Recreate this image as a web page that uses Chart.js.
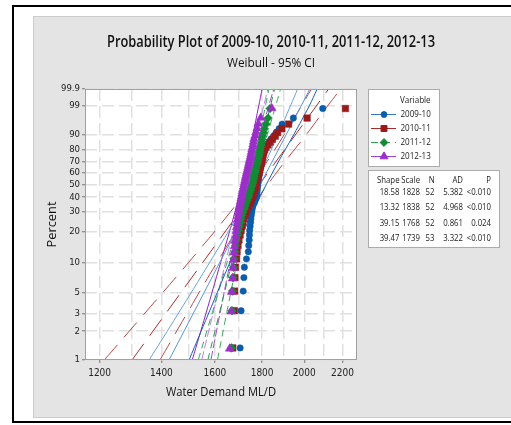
<!DOCTYPE html>
<html>
<head>
<meta charset="utf-8">
<title>Probability Plot - Weibull</title>
<script src="https://cdn.jsdelivr.net/npm/chart.js@4.4.1/dist/chart.umd.min.js"></script>
<style>
  html, body { margin: 0; padding: 0; background: #fff; }
  #wrap { position: relative; width: 511px; height: 425px; }
</style>
</head>
<body>
<div id="wrap"><canvas id="probPlot" width="511" height="425"></canvas></div>
<script>
// ---- data ----
const seriesNames = ['2009-10', '2010-11', '2011-12', '2012-13'];

// sorted water demand values (ML/D), one point per rank
const demand0910 = [1704, 1708, 1717, 1720, 1722, 1731, 1739, 1741, 1743, 1744, 1745, 1747, 1749, 1750, 1752, 1754, 1756, 1759, 1765, 1769, 1774, 1776, 1777, 1778, 1779, 1780, 1781, 1782, 1784, 1785, 1787, 1789, 1790, 1792, 1794, 1796, 1798, 1800, 1802, 1805, 1808, 1811, 1815, 1822, 1830, 1840, 1852, 1864, 1878, 1892, 1946, 2094];
const demand1011 = [1673, 1680, 1681, 1682, 1684, 1689, 1691, 1695, 1699, 1704, 1708, 1712, 1716, 1721, 1725, 1729, 1734, 1740, 1747, 1751, 1755, 1760, 1762, 1764, 1769, 1771, 1773, 1775, 1778, 1782, 1784, 1787, 1789, 1791, 1793, 1796, 1798, 1800, 1802, 1804, 1807, 1811, 1818, 1827, 1836, 1847, 1860, 1871, 1891, 1923, 2014, 2216];
const demand1112 = [1668, 1670, 1672, 1674, 1676, 1678, 1682, 1685, 1689, 1693, 1697, 1701, 1706, 1708, 1712, 1716, 1721, 1725, 1729, 1734, 1738, 1742, 1744, 1749, 1751, 1755, 1758, 1760, 1762, 1764, 1766, 1769, 1771, 1773, 1775, 1778, 1780, 1782, 1784, 1787, 1789, 1791, 1793, 1796, 1798, 1800, 1802, 1807, 1811, 1818, 1827, 1836];
const demand1213 = [1660, 1666, 1668, 1672, 1674, 1676, 1678, 1680, 1682, 1685, 1687, 1689, 1691, 1693, 1695, 1697, 1699, 1701, 1704, 1706, 1708, 1710, 1712, 1714, 1716, 1719, 1721, 1723, 1725, 1727, 1729, 1731, 1734, 1736, 1738, 1740, 1742, 1744, 1747, 1749, 1751, 1753, 1755, 1758, 1760, 1762, 1764, 1769, 1773, 1778, 1783, 1794, 1844];

// fitted lines: demand where each line meets 1% and 99.9%
const fitAt1 = [1427, 1301, 1572, 1548];
const fitAt999 = [2028, 2125, 1857, 1826];

// 95% CI bands, demand at these percents
const ciPercents = [1, 3, 10, 30, 63.2, 90, 99, 99.9];
const ciLow0910 = [1358, 1459, 1579, 1702, 1800, 1873, 1932, 1967];
const ciHigh0910 = [1500, 1574, 1661, 1758, 1856, 1948, 2025, 2065];
const ciLow1011 = [1214, 1341, 1498, 1663, 1799, 1902, 1986, 2036];
const ciHigh1011 = [1395, 1491, 1608, 1740, 1878, 2010, 2120, 2190];
const ciLow1112 = [1535, 1588, 1649, 1709, 1755, 1789, 1815, 1831];
const ciHigh1112 = [1610, 1647, 1690, 1735, 1781, 1824, 1862, 1885];
const ciLow1213 = [1512, 1564, 1623, 1682, 1727, 1759, 1785, 1800];
const ciHigh1213 = [1584, 1620, 1662, 1707, 1752, 1793, 1830, 1853];

// axis ticks
const percentTicks = [1, 2, 3, 5, 10, 20, 30, 40, 50, 60, 70, 80, 90, 99, 99.9];
const demandTicks = [1200, 1300, 1400, 1500, 1600, 1700, 1800, 1900, 2000, 2100, 2200];
const demandLabels = [1200, 1400, 1600, 1800, 2000, 2200];

// stats table
const shapeVals = ['18.58', '13.32', '39.15', '39.47'];
const scaleVals = ['1828', '1838', '1768', '1739'];
const nVals = ['52', '52', '52', '53'];
const adVals = ['5.382', '4.968', '0.861', '3.322'];
const pVals = ['<0.010', '<0.010', '0.024', '<0.010'];

// ---- styles ----
const FONT = "'Open Sans', 'Noto Sans', sans-serif";
const TICK_FONT = "'Liberation Sans Narrow', 'DejaVu Sans Condensed', Roboto, sans-serif";
const markerColor = ['#0b5cab', '#981b1b', '#138a36', '#9b30c8'];
const markerStyle = ['circle', 'rect', 'rectRot', 'triangle'];
const markerSize = [3.2, 4.6, 4.3, 5];
const legendMarker = [2.9, 4.2, 3.9, 4.6];
const legendLine = ['#3a78c4', '#a52a2a', '#2e9e4e', '#a040d0'];
// [low, fit, high] line looks per series
const bandColor = [
  ['#6aa2dc', '#5a96d6', '#1d5fb8'],
  ['#b84a4a', '#a83030', '#b84a4a'],
  ['#3aa85a', '#2a9a4a', '#3aa85a'],
  ['#8e24b8', '#c084e0', '#a64ad0']
];
const bandDash = [
  [[], [], []],
  [[20, 10], [20, 10], [20, 10]],
  [[7, 5], [7, 5], [7, 5]],
  [[], [9, 3], [9, 3]]
];

// Weibull probability axis: position by ln(-ln(1-p))
const wb = p => Math.log(-Math.log(1 - p / 100));
// median rank plotting position (Bernard)
const rankPercent = (i, n) => 100 * (i + 1 - 0.3) / (n + 0.4);

class WeibullScale extends Chart.LinearScale {
  buildTicks() {
    return percentTicks.map(v => ({ value: v }));
  }
  getPixelForValue(value) {
    const a = wb(this.min), b = wb(this.max);
    return this.getPixelForDecimal((wb(value) - a) / (b - a));
  }
  getValueForPixel(pixel) {
    const a = wb(this.min), b = wb(this.max);
    const w = a + this.getDecimalForPixel(pixel) * (b - a);
    return 100 * (1 - Math.exp(-Math.exp(w)));
  }
}
WeibullScale.id = 'weibull';
WeibullScale.defaults = {};
Chart.register(WeibullScale);

const pointSets = [demand0910, demand1011, demand1112, demand1213];
const lowSets = [ciLow0910, ciLow1011, ciLow1112, ciLow1213];
const highSets = [ciHigh0910, ciHigh1011, ciHigh1112, ciHigh1213];

const datasets = [];
pointSets.forEach((vals, s) => {
  // lines sit under the symbols
  const lineBase = { showLine: true, pointRadius: 0, borderWidth: 1, fill: false, order: 10 };
  datasets.push(Object.assign({}, lineBase, {
    label: seriesNames[s] + ' low',
    data: ciPercents.map((p, k) => ({ x: lowSets[s][k], y: p })),
    borderColor: bandColor[s][0], borderDash: bandDash[s][0], tension: 0.4
  }));
  datasets.push(Object.assign({}, lineBase, {
    label: seriesNames[s] + ' fit',
    data: [{ x: fitAt1[s], y: 1 }, { x: fitAt999[s], y: 99.9 }],
    borderColor: bandColor[s][1], borderDash: bandDash[s][1]
  }));
  datasets.push(Object.assign({}, lineBase, {
    label: seriesNames[s] + ' high',
    data: ciPercents.map((p, k) => ({ x: highSets[s][k], y: p })),
    borderColor: bandColor[s][2], borderDash: bandDash[s][2], tension: 0.4
  }));
  datasets.push({
    label: seriesNames[s],
    data: vals.map((v, i) => ({ x: v, y: rankPercent(i, vals.length) })),
    showLine: false,
    pointStyle: markerStyle[s],
    pointRadius: markerSize[s],
    pointBackgroundColor: markerColor[s],
    pointBorderColor: markerColor[s],
    pointBorderWidth: 0.5,
    order: 4 - s
  });
});

function squeezeText(ctx, text, x, y, squeeze) {
  const w = ctx.measureText(text).width;
  ctx.fillText(text, x, y, w * squeeze);
}

const plotFrame = {
  id: 'plotFrame',
  beforeDraw(chart) {
    const { ctx, chartArea: a } = chart;
    ctx.save();
    ctx.fillStyle = '#fff';
    ctx.fillRect(0, 0, chart.width, chart.height);
    ctx.fillStyle = '#e4e4e4';
    ctx.fillRect(33, 16, 490, 401);
    ctx.strokeStyle = '#cccccc';
    ctx.lineWidth = 1;
    ctx.strokeRect(33.5, 16.5, 490, 401);
    ctx.strokeStyle = '#000';
    ctx.lineWidth = 2;
    ctx.strokeRect(13, 6, 510, 416);
    ctx.fillStyle = '#fff';
    ctx.fillRect(a.left, a.top, a.right - a.left, a.bottom - a.top);
    ctx.restore();
  },
  afterDraw(chart) {
    const { ctx, chartArea: a } = chart;
    ctx.save();
    // plot border
    ctx.strokeStyle = '#a0a0a0';
    ctx.lineWidth = 1;
    ctx.strokeRect(a.left + 0.5, a.top + 0.5, a.right - a.left - 1, a.bottom - a.top - 1);

    // titles
    ctx.fillStyle = '#111';
    ctx.textAlign = 'center';
    ctx.textBaseline = 'middle';
    ctx.font = '600 16px ' + FONT;
    ctx.fillText('Probability Plot of 2009-10, 2010-11, 2011-12, 2012-13', 271, 42, 328);
    ctx.font = '12.5px ' + FONT;
    ctx.fillText('Weibull - 95% CI', 271, 63, 88);
    ctx.font = '13px ' + FONT;
    ctx.fillText('Water Demand ML/D', (a.left + a.right) / 2, 392, 110);
    ctx.save();
    ctx.translate(52, (a.top + a.bottom) / 2);
    ctx.rotate(-Math.PI / 2);
    ctx.fillText('Percent', 0, 0, 46);
    ctx.restore();

    // legend box
    ctx.fillStyle = '#fff';
    ctx.fillRect(368.5, 89.5, 71, 77);
    ctx.strokeStyle = '#ababab';
    ctx.strokeRect(368.5, 89.5, 71, 77);
    ctx.fillStyle = '#1a1a1a';
    ctx.textAlign = 'left';
    ctx.font = '9.5px ' + FONT;
    squeezeText(ctx, 'Variable', 400, 100.5, 0.85);
    const rowY = [114.5, 128.5, 142.5, 156.5];
    seriesNames.forEach((name, s) => {
      const y = rowY[s];
      ctx.strokeStyle = legendLine[s];
      ctx.lineWidth = 1;
      ctx.setLineDash(s === 2 ? [7, 5] : []);
      ctx.beginPath();
      ctx.moveTo(371, y);
      ctx.lineTo(396, y);
      ctx.stroke();
      ctx.setLineDash([]);
      ctx.fillStyle = markerColor[s];
      ctx.strokeStyle = markerColor[s];
      Chart.helpers.drawPoint(ctx, { pointStyle: markerStyle[s], radius: legendMarker[s], rotation: 0, borderWidth: 0.5 }, 384, y);
      ctx.fillStyle = '#1a1a1a';
      squeezeText(ctx, name, 400.5, y, 0.85);
    });

    // stats table
    ctx.fillStyle = '#fff';
    ctx.fillRect(368.5, 170.5, 131, 77);
    ctx.strokeStyle = '#ababab';
    ctx.strokeRect(368.5, 170.5, 131, 77);
    ctx.fillStyle = '#1a1a1a';
    ctx.textAlign = 'right';
    const colX = [399.5, 420, 434.5, 463, 491];
    const head = ['Shape', 'Scale', 'N', 'AD', 'P'];
    head.forEach((h, c) => squeezeText(ctx, h, colX[c], 180.5, 0.82));
    const tableRowY = [192, 207.5, 223, 238];
    seriesNames.forEach((_, s) => {
      const cells = [shapeVals[s], scaleVals[s], nVals[s], adVals[s], pVals[s]];
      cells.forEach((t, c) => squeezeText(ctx, t, colX[c], tableRowY[s], 0.82));
    });
    ctx.restore();
  }
};

new Chart(document.getElementById('probPlot'), {
  type: 'scatter',
  data: { datasets: datasets },
  options: {
    responsive: false,
    animation: false,
    events: [],
    layout: { padding: { left: 45, top: 89, right: 154, bottom: 30 } },
    plugins: {
      legend: { display: false },
      tooltip: { enabled: false },
      title: { display: false }
    },
    scales: {
      x: {
        type: 'logarithmic',
        min: 1157,
        max: 2281,
        bounds: 'data',
        afterBuildTicks: scale => { scale.ticks = demandTicks.map(v => ({ value: v })); },
        afterFit: scale => { scale.height = 35; },
        ticks: {
          autoSkip: false,
          maxRotation: 0,
          padding: 4,
          color: '#222',
          font: { family: TICK_FONT, size: 10 },
          callback: v => demandLabels.includes(v) ? String(v) : ''
        },
        grid: {
          color: '#e0e0e0',
          lineWidth: 1.5,
          tickLength: 3,
          tickWidth: 1,
          tickColor: c => (c.tick && demandLabels.includes(c.tick.value)) ? '#777' : 'rgba(0,0,0,0)'
        },
        border: { display: false, dash: [12, 5] }
      },
      y: {
        type: 'weibull',
        min: 1,
        max: 99.9,
        afterFit: scale => { scale.width = 40; },
        ticks: {
          autoSkip: false,
          padding: 2,
          color: '#222',
          font: { family: TICK_FONT, size: 9.5 },
          callback: v => String(v)
        },
        grid: {
          color: '#e0e0e0',
          lineWidth: 1.5,
          tickLength: 3,
          tickWidth: 1,
          tickColor: '#777'
        },
        border: { display: false, dash: [12, 5] }
      }
    }
  },
  plugins: [plotFrame]
});
</script>
</body>
</html>
